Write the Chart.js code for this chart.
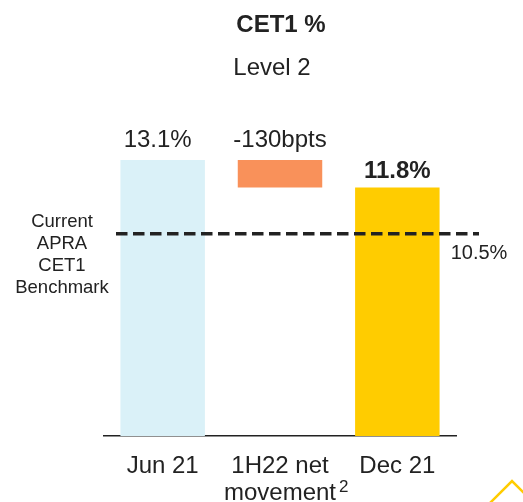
<!DOCTYPE html>
<html>
<head>
<meta charset="utf-8">
<script src="https://cdn.jsdelivr.net/npm/chart.js@4"></script>
<style>
  html, body { margin: 0; padding: 0; background: #fff; }
  #wrap { width: 523px; height: 502px; position: relative; }
</style>
</head>
<body>
<div id="wrap"><canvas id="cet1Chart" width="523" height="502"></canvas></div>
<script>
// chart values
const categories = [['Jun 21'], ['1H22 net', 'movement'], ['Dec 21']];
const footnoteMark = '2';        // superscript after "movement"
const openingValue = 13.1;
const movementValue = -1.3;
const closingValue = 11.8;
const valueLabels = ['13.1%', '-130bpts', '11.8%'];
const barColors = ['#DAF1F8', '#F9915A', '#FFCC00'];
const benchmarkLevel = 9.6;      // where the dashed line is drawn in the picture
const benchmarkLabel = '10.5%';
const benchmarkText = ['Current', 'APRA', 'CET1', 'Benchmark'];

const FONT = '"Liberation Sans", Arial, sans-serif';
const TEXT = '#222222';

// floating bars for the waterfall
const ranges = [
    [0, openingValue],
    [openingValue + movementValue, openingValue],
    [0, closingValue]
];

const overlay = {
    id: 'overlay',
    afterDatasetsDraw(chart) {
        const { ctx, chartArea, scales } = chart;
        const meta = chart.getDatasetMeta(0);
        ctx.save();

        // titles
        ctx.fillStyle = TEXT;
        ctx.textAlign = 'center';
        ctx.textBaseline = 'middle';
        ctx.font = 'bold 24px ' + FONT;
        ctx.fillText('CET1 %', 281, 25);
        ctx.font = '24px ' + FONT;
        ctx.fillText('Level 2', 272, 68);

        // value labels
        meta.data.forEach((bar, i) => {
            const top = Math.min(bar.y, bar.base);
            ctx.font = (i === 2 ? 'bold ' : '') + '24px ' + FONT;
            ctx.fillText(valueLabels[i], bar.x - (i === 0 ? 5 : 0), top - (i === 2 ? 16 : 20));
        });

        // footnote mark on the middle category label
        ctx.font = '17px ' + FONT;
        ctx.textAlign = 'left';
        ctx.fillText(footnoteMark, scales.x.getPixelForValue(1) + 59, chartArea.bottom + 51);
        ctx.textAlign = 'center';

        // benchmark line
        const y = scales.y.getPixelForValue(benchmarkLevel);
        ctx.strokeStyle = TEXT;
        ctx.lineWidth = 3.5;
        ctx.setLineDash([11.5, 5.5]);
        ctx.beginPath();
        ctx.moveTo(chartArea.left + 12, y);
        ctx.lineTo(chartArea.right + 23, y);
        ctx.stroke();
        ctx.setLineDash([]);

        ctx.font = '20px ' + FONT;
        ctx.fillText(benchmarkLabel, 479, y + 20);

        ctx.font = '18.5px ' + FONT;
        benchmarkText.forEach((t, i) => ctx.fillText(t, 62, 222 + i * 22));

        // corner chevron
        ctx.strokeStyle = '#FFCC00';
        ctx.lineWidth = 2.5;
        ctx.beginPath();
        ctx.moveTo(490, 503);
        ctx.lineTo(512, 481);
        ctx.lineTo(530, 499);
        ctx.stroke();

        ctx.restore();
    }
};

new Chart(document.getElementById('cet1Chart'), {
    type: 'bar',
    data: {
        labels: categories,
        datasets: [{
            data: ranges,
            backgroundColor: barColors,
            borderWidth: 0,
            barPercentage: 0.72,
            categoryPercentage: 1
        }]
    },
    options: {
        responsive: false,
        animation: false,
        events: [],
        layout: { padding: { left: 104, right: 67, top: 120, bottom: 0 } },
        plugins: {
            legend: { display: false },
            tooltip: { enabled: false }
        },
        scales: {
            x: {
                grid: { display: false },
                border: { display: true, color: '#222222', width: 1.5 },
                afterFit: scale => { scale.height = 66; },
                ticks: {
                    color: TEXT,
                    font: { family: FONT, size: 24, lineHeight: 1.12 },
                    padding: 9,
                    maxRotation: 0,
                    autoSkip: false
                }
            },
            y: {
                display: false,
                min: 0,
                max: 15
            }
        }
    },
    plugins: [overlay]
});
</script>
</body>
</html>
